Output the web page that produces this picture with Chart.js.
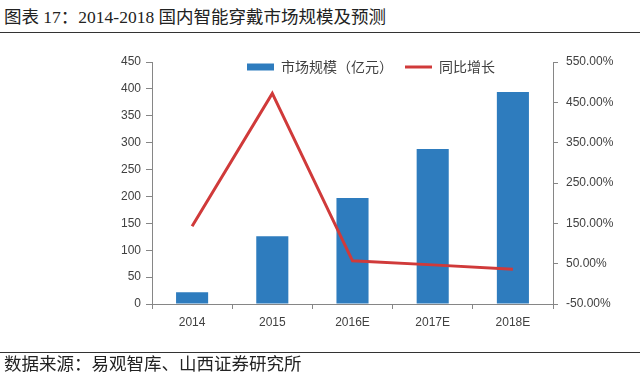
<!DOCTYPE html>
<html>
<head>
<meta charset="utf-8">
<script src="https://cdn.jsdelivr.net/npm/chart.js@4/dist/chart.umd.min.js"></script>
<style>
  body { margin: 0; width: 640px; height: 384px; background: #fff; position: relative; overflow: hidden; }
  #titolo { position: absolute; left: 4px; top: 3px; font: 17.5px "Liberation Serif", "Noto Sans CJK SC", serif; color: #222; white-space: nowrap; }
  #fonte { position: absolute; left: 4px; top: 350px; font: 17.5px "Noto Sans CJK SC", sans-serif; color: #222; white-space: nowrap; }
  .riga { position: absolute; left: 0; width: 640px; height: 0; border-top: 1.5px solid #333; }
  #box { position: absolute; left: 0; top: 0; width: 640px; height: 384px; }
</style>
</head>
<body>
<div id="titolo">图表 17：2014-2018 国内智能穿戴市场规模及预测</div>
<div class="riga" style="top:32px"></div>
<div id="box"><canvas id="grafico"></canvas></div>
<div class="riga" style="top:352px"></div>
<div id="fonte">数据来源：易观智库、山西证券研究所</div>
<script>
var anni = ['2014', '2015', '2016E', '2017E', '2018E'];   //categorie asse x
var mercato = [22, 126, 197, 288, 394];                   //市场规模（亿元）
var crescita = [143, 472, 57, 47, 36];                    //同比增长 in %

var grigio = '#868686';   //colore assi
var testo = '#404040';    //colore etichette

//mette la legenda in alto dentro l'area del grafico, su una riga sola
var spostaLegenda = {
  id: 'spostaLegenda',
  afterLayout: function(chart) {
    var l = chart.legend;
    l.update(600, 60, { left: 0, top: 0, right: 0, bottom: 0 });
    l.left = 235;
    l.right = 235 + 600;
    l.width = 600;
    l.top = 48;
    l.bottom = 100;
  }
};

var ctx = document.getElementById('grafico').getContext('2d');
var chart = new Chart(ctx, {
  type: 'bar',
  data: {
    labels: anni,
    datasets: [{
      label: '市场规模（亿元）',
      data: mercato,
      backgroundColor: '#2E7CBE',
      borderWidth: 0,
      pointStyle: 'rect',
      categoryPercentage: 0.8,
      barPercentage: 0.5,
      yAxisID: 'y',
      order: 1
    }, {
      type: 'line',
      label: '同比增长',
      data: crescita,
      borderColor: '#D03A3A',
      backgroundColor: '#D03A3A',
      borderWidth: 3,
      pointRadius: 0,
      pointStyle: 'line',
      tension: 0,
      yAxisID: 'y1',
      order: 0
    }]
  },
  options: {
    responsive: true,
    maintainAspectRatio: false,
    animation: false,
    layout: { padding: { top: 62, left: 0, right: 0, bottom: 54 } },
    plugins: {
      legend: {
        position: 'chartArea',
        align: 'start',
        labels: {
          usePointStyle: true,
          pointStyleWidth: 27,
          boxHeight: 7,
          padding: 12,
          color: testo,
          font: { family: '"Noto Sans CJK SC", sans-serif', size: 14 },
          sort: function(a, b) { return a.datasetIndex - b.datasetIndex; }
        }
      },
      tooltip: { enabled: false }
    },
    scales: {
      x: {
        afterFit: function(s) { s.height = 26; },
        border: { color: grigio },
        grid: { display: true, drawOnChartArea: false, offset: true, tickLength: 5, color: grigio },
        ticks: { color: testo, padding: 6, font: { family: '"Liberation Sans", sans-serif', size: 12 } }
      },
      y: {
        position: 'left',
        min: 0,
        max: 450,
        afterFit: function(s) { s.width = 152; },
        border: { color: grigio },
        grid: { drawOnChartArea: false, tickLength: 6, color: grigio },
        ticks: { stepSize: 50, color: testo, padding: 5, font: { family: '"Liberation Sans", sans-serif', size: 12 } }
      },
      y1: {
        position: 'right',
        min: -50,
        max: 550,
        afterFit: function(s) { s.width = 87; },
        border: { color: grigio },
        grid: { drawOnChartArea: false, tickLength: 5, color: grigio },
        ticks: {
          stepSize: 100,
          color: testo,
          padding: 8,
          font: { family: '"Liberation Sans", sans-serif', size: 12 },
          callback: function(v) { return v.toFixed(2) + '%'; }
        }
      }
    }
  },
  plugins: [spostaLegenda]
});
</script>
</body>
</html>
